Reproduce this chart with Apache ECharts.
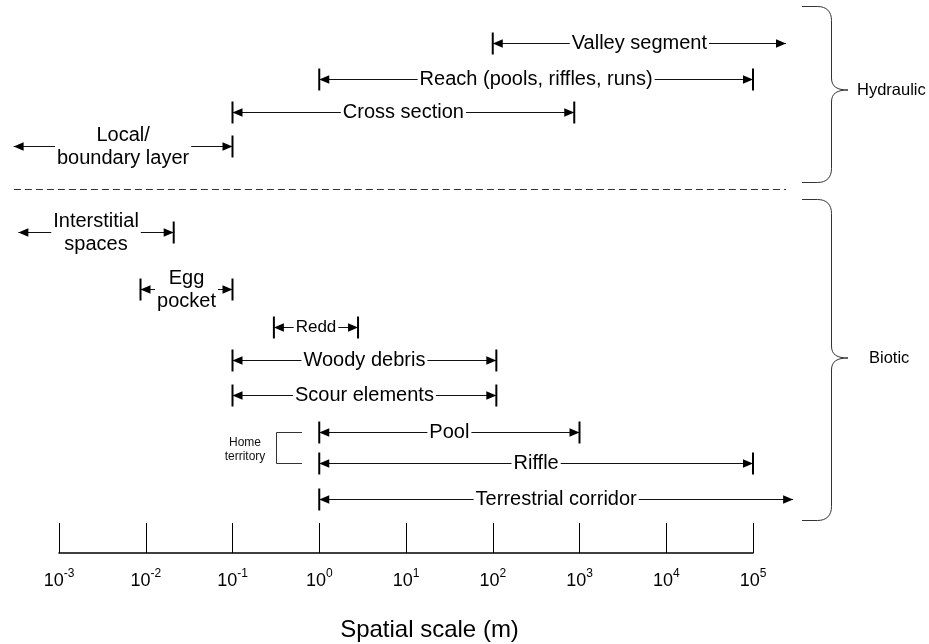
<!DOCTYPE html>
<html>
<head>
<meta charset="utf-8">
<script src="https://cdn.jsdelivr.net/npm/echarts@6/dist/echarts.min.js"></script>
<style>
  html, body { margin: 0; padding: 0; background: #fff; }
  #chart { width: 929px; height: 644px; }
</style>
</head>
<body>
<div id="chart"></div>
<script>
// Spatial extent (metres) of hydraulic processes and biotic features in a stream
const rangeNames = [
  'Valley segment',
  'Reach (pools, riffles, runs)',
  'Cross section',
  'Local/\nboundary layer',
  'Interstitial\nspaces',
  'Egg\npocket',
  'Redd',
  'Woody debris',
  'Scour elements',
  'Pool',
  'Riffle',
  'Terrestrial corridor'
];
const rangeMin = [100, 1, 0.1, 3.0e-4, 3.4e-4, 0.0087, 0.3, 0.1, 0.1, 1, 1, 1];
const rangeMax = [2.4e5, 1e5, 870, 0.1, 0.021, 0.1, 2.8, 110, 110, 1000, 1e5, 2.9e5];
// false = open-ended (arrow only, no end bar)
const minBounded = [true, true, true, false, false, true, true, true, true, true, true, true];
const maxBounded = [false, true, true, true, true, true, true, true, true, true, true, false];
const groupNames = ['Hydraulic', 'Biotic'];
const homeTerritoryLabel = 'Home\nterritory';
const axisTitle = 'Spatial scale (m)';

// ---- layout (row levels on the hidden vertical axis, font sizes) ----
const rowLevel = [1.0, 2.06, 3.03, 4.03, 6.56, 8.24, 9.35, 10.32, 11.35, 12.44, 13.35, 14.41];
const labelFontSize = [20, 20, 20, 20, 20, 20, 17, 20, 20, 20, 20, 20];
const FONT = '"Liberation Sans", Arial, Helvetica, sans-serif';
const INK = '#000';
const LINE = '#111';

const chart = echarts.init(document.getElementById('chart'));

const rangeData = rangeNames.map((n, i) => [
  Math.log10(rangeMin[i]), Math.log10(rangeMax[i]), rowLevel[i], i
]);

function arrowHead(tipX, y, dir) {
  const L = 10, H = 4.2;
  return {
    type: 'polygon',
    shape: { points: [[tipX, y], [tipX - dir * L, y - H], [tipX - dir * L, y + H]] },
    style: { fill: INK }
  };
}
function endBar(x, y) {
  return {
    type: 'line',
    shape: { x1: x, y1: y - 11, x2: x, y2: y + 11 },
    style: { stroke: INK, lineWidth: 2 }
  };
}

function renderRange(params, api) {
  const i = api.value(3);
  const p0 = api.coord([api.value(0), api.value(2)]);
  const p1 = api.coord([api.value(1), api.value(2)]);
  const y = Math.round(p0[1]) + 0.5;
  const x0 = p0[0], x1 = p1[0];
  const children = [
    { type: 'line', shape: { x1: x0, y1: y, x2: x1, y2: y }, style: { stroke: LINE, lineWidth: 1.2 } },
    arrowHead(x0, y, -1),
    arrowHead(x1, y, 1)
  ];
  if (minBounded[i]) children.push(endBar(x0, y));
  if (maxBounded[i]) children.push(endBar(x1, y));
  children.push({
    type: 'text',
    x: (x0 + x1) / 2,
    y: y,
    style: {
      text: rangeNames[i],
      font: labelFontSize[i] + 'px ' + FONT,
      fill: INK,
      align: 'center',
      verticalAlign: 'middle',
      lineHeight: 23,
      backgroundColor: '#fff',
      padding: [0, 2]
    }
  });
  return { type: 'group', children };
}

chart.setOption({
  animation: false,
  backgroundColor: '#fff',
  grid: { left: 59, right: 176, top: 9, bottom: 91 },
  xAxis: {
    type: 'value',
    position: 'bottom',
    min: -3,
    max: 5,
    interval: 1,
    splitLine: { show: false },
    axisLine: { show: true, onZero: false, lineStyle: { color: INK, width: 1.6 } },
    axisTick: { show: true, inside: true, length: 30, lineStyle: { color: INK, width: 1 } },
    axisLabel: {
      margin: 15,
      formatter: v => '{b|10}{s|' + v + '}',
      rich: {
        b: { fontFamily: FONT, fontSize: 18, color: INK, lineHeight: 22, verticalAlign: 'bottom' },
        s: { fontFamily: FONT, fontSize: 12, color: INK, lineHeight: 12, verticalAlign: 'top' }
      }
    }
  },
  yAxis: { type: 'value', min: 0, max: 16, inverse: true, show: false },
  series: [{
    type: 'custom',
    renderItem: renderRange,
    encode: { x: [0, 1], y: 2 },
    clip: false,
    silent: true,
    data: rangeData
  }]
});

// ---- annotations: separator, group braces, home-territory bracket, axis title ----
const STROKE = { stroke: '#333', lineWidth: 1, fill: null };

function braceElements(top, mid, bottom, xl, xv, xp) {
  const r = 14;
  const seg = (x1, y1, x2, y2) => ({ type: 'line', shape: { x1, y1, x2, y2 }, style: STROKE, silent: true });
  const curve = (x1, y1, cpx1, cpy1, cpx2, cpy2, x2, y2) => ({
    type: 'bezierCurve', shape: { x1, y1, cpx1, cpy1, cpx2, cpy2, x2, y2 }, style: STROKE, silent: true
  });
  return [
    seg(xl, top, xv - r, top),
    curve(xv - r, top, xv - 5, top, xv, top + 5, xv, top + r),
    seg(xv, top + r, xv, mid - 12),
    curve(xv, mid - 12, xv, mid - 3, xv + 6, mid, xp, mid),
    curve(xp, mid, xv + 6, mid, xv, mid + 3, xv, mid + 12),
    seg(xv, mid + 12, xv, bottom - r),
    curve(xv, bottom - r, xv, bottom - 5, xv - 5, bottom, xv - r, bottom),
    seg(xv - r, bottom, xl, bottom)
  ];
}

const sepLeft = chart.convertToPixel({ gridIndex: 0 }, [-3.52, 5.29]);
const sepRight = chart.convertToPixel({ gridIndex: 0 }, [5.38, 5.29]);
const poolPx = chart.convertToPixel({ gridIndex: 0 }, [0, rowLevel[9]]);
const rifflePx = chart.convertToPixel({ gridIndex: 0 }, [0, rowLevel[10]]);
const sepY = Math.round(sepLeft[1]) + 0.5;

const braces = [
  { top: 6.5, mid: 90, bottom: 182.5, textX: 857 },
  { top: 199.5, mid: 358, bottom: 520.5, textX: 869 }
];

let graphics = [
  {
    type: 'line',
    shape: { x1: sepLeft[0], y1: sepY, x2: sepRight[0], y2: sepY },
    style: { stroke: '#333', lineWidth: 1, lineDash: [7, 4] },
    silent: true
  }
];
braces.forEach((b, k) => {
  graphics = graphics.concat(braceElements(b.top, b.mid, b.bottom, 802, 831.5, 848));
  graphics.push({
    type: 'text',
    x: b.textX,
    y: b.mid,
    style: { text: groupNames[k], font: '16.5px ' + FONT, fill: INK, align: 'left', verticalAlign: 'middle' },
    silent: true
  });
});
const yTop = Math.round(poolPx[1]) + 0.5;
const yBot = Math.round(rifflePx[1]) + 0.5;
graphics.push({
  type: 'polyline',
  shape: { points: [[302, yTop], [276.5, yTop], [276.5, yBot], [302, yBot]] },
  style: STROKE,
  silent: true
});
graphics.push({
  type: 'text',
  x: 245,
  y: (yTop + yBot) / 2 + 2,
  style: { text: homeTerritoryLabel, font: '12px ' + FONT, fill: '#111', align: 'center', verticalAlign: 'middle', lineHeight: 14 },
  silent: true
});
graphics.push({
  type: 'text',
  x: 429.5,
  y: 630,
  style: { text: axisTitle, font: '24px ' + FONT, fill: INK, align: 'center', verticalAlign: 'middle' },
  silent: true
});

chart.setOption({ graphic: graphics });
</script>
</body>
</html>
